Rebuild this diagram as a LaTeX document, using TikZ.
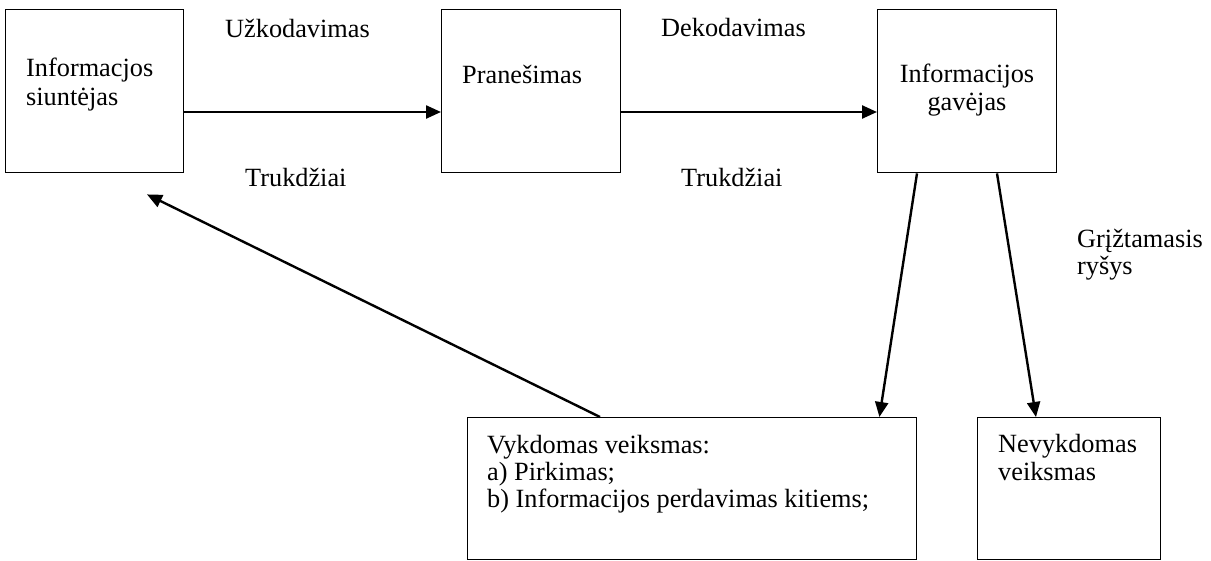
\documentclass[tikz,border=0pt]{standalone}
\usepackage{fontspec}
\setmainfont{Liberation Serif}
\usetikzlibrary{arrows.meta,calc}
\begin{document}
\begin{tikzpicture}[x=1pt,y=-1pt,
  box/.style={draw, line width=1.4pt, inner sep=0pt, anchor=north west},
  lbl/.style={inner sep=0pt, anchor=base west, font=\fontsize{26.3}{27.5}\selectfont},
  clbl/.style={lbl, anchor=base},
  link/.style={line width=2.4pt, -{Triangle[length=15pt,width=13pt]}},
]
\fill[white] (0,0) rectangle (1211,560);
\useasboundingbox (0,0) rectangle (1211,560);

% boxes
\node[box, minimum width=178pt, minimum height=163pt] (b1) at (5,9) {};
\node[box, minimum width=179pt, minimum height=163pt] (b2) at (441,9) {};
\node[box, minimum width=179pt, minimum height=163pt] (b3) at (877,9) {};
\node[box, minimum width=449pt, minimum height=142pt] (b4) at (467,417) {};
\node[box, minimum width=183pt, minimum height=142pt] (b5) at (977,417) {};

% box texts
\node[lbl] (t1a) at (26,76) {Informacjos};
\node[lbl] (t1b) at (26,105) {siuntėjas};
\node[lbl] (t2) at (462,83) {Pranešimas};
\node[clbl] (t3a) at (967,82) {Informacijos};
\node[clbl] (t3b) at (967,110) {gavėjas};
\node[lbl] (t4a) at (487,453) {Vykdomas veiksmas:};
\node[lbl] (t4b) at (487,480) {a) Pirkimas;};
\node[lbl] (t4c) at (487,507) {b) Informacijos perdavimas kitiems;};
\node[lbl] (t5a) at (998,452) {Nevykdomas};
\node[lbl] (t5b) at (998,480) {veiksmas};

% free labels
\node[lbl] (l1) at (225,37) {Užkodavimas};
\node[lbl] (l2) at (661,36) {Dekodavimas};
\node[lbl] (l3) at (245,186) {Trukdžiai};
\node[lbl] (l4) at (681,186) {Trukdžiai};
\node[lbl] (l5) at (1077,247) {Grįžtamasis};
\node[lbl] (l6) at (1077,274) {ryšys};

% connectors
\coordinate (fb) at ($(b1.south west)+(142,21)$);
\draw[link] ($(b1.north east)+(0,103)$) -- ($(b2.north west)+(0,103)$);
\draw[link] ($(b2.north east)+(0,103)$) -- ($(b3.north west)+(0,103)$);
\draw[link] ($(b3.south west)+(40,0)$) -- ($(b4.north east)+(-38,0)$);
\draw[link] ($(b3.south west)+(120,0)$) -- ($(b5.north west)+(59,0)$);
\draw[link] ($(b4.north west)+(133,0)$) -- (fb);
\end{tikzpicture}
\end{document}
